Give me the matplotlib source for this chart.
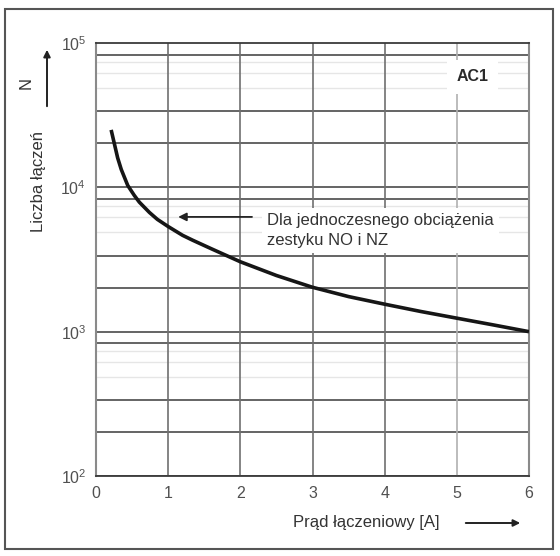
import matplotlib
matplotlib.use("Agg")
import matplotlib.pyplot as plt
from matplotlib.patches import Rectangle, FancyArrowPatch

plt.rcParams['font.family'] = ['Liberation Sans', 'DejaVu Sans']
plt.rcParams['mathtext.fontset'] = 'custom'
plt.rcParams['mathtext.rm'] = 'Liberation Sans'
plt.rcParams['mathtext.it'] = 'Liberation Sans'

# Data
current_A = [0.21, 0.25, 0.30, 0.35, 0.44, 0.53, 0.60, 0.74, 0.85, 1.0, 1.2, 1.34, 1.6,
             2.0, 2.5, 3.0, 3.5, 4.0, 4.5, 5.0, 5.5, 6.0]
switchings = [25000, 20500, 16000, 13300, 10300, 8800, 7900, 6700, 6000, 5350, 4650, 4300, 3750,
              3050, 2450, 2030, 1750, 1550, 1380, 1240, 1115, 1000]

x_ticks = [0, 1, 2, 3, 4, 5, 6]
y_ticks = [1e2, 1e3, 1e4, 1e5]
y_tick_labels = ['$10^2$', '$10^3$', '$10^4$', '$10^5$']
decades = [1e2, 1e3, 1e4]
dark_minor = [2.02, 3.37, 8.3]
light_minor = [4.88, 6.2, 7.39]
dark_vlines = [1, 2, 3, 4]
light_vlines = [5]

fig = plt.figure(figsize=(5.6, 5.56), dpi=100)
ax = fig.add_axes([96/560, 1-476/556, 433/560, 433/556])
ax.set_yscale('log')
ax.set_xlim(0, 6)
ax.set_ylim(1e2, 1e5)

for d in decades:
    for m in light_minor:
        ax.axhline(d*m, color='#e6e6e6', lw=1.0, zorder=1)
for d in decades:
    for m in dark_minor:
        ax.axhline(d*m, color='#4a4a4a', lw=1.2, zorder=2)
    ax.axhline(d, color='#4a4a4a', lw=1.2, zorder=2)
for v in dark_vlines:
    ax.axvline(v, color='#707070', lw=1.2, zorder=2)
for v in light_vlines:
    ax.axvline(v, color='#b0b0b0', lw=1.2, zorder=2)

ax.plot(current_A, switchings, color='#161616', lw=2.6, solid_capstyle='butt',
        solid_joinstyle='round', zorder=5)

for s in ['top', 'bottom']:
    ax.spines[s].set_color('#3a3a3a')
    ax.spines[s].set_linewidth(1.3)
for s in ['left', 'right']:
    ax.spines[s].set_color('#8a8a8a')
    ax.spines[s].set_linewidth(1.5)

ax.set_xticks(x_ticks)
ax.set_xticklabels([str(t) for t in x_ticks])
ax.set_yticks(y_ticks)
ax.set_yticklabels(y_tick_labels)
ax.minorticks_off()
ax.tick_params(length=0, labelsize=11.5, labelcolor='#505050', pad=7)

# AC1 label
ax.text(5.22, 10**4.765, 'AC1', fontsize=11.5, fontweight='bold', color='#2a2a2a',
        ha='center', va='center', zorder=6,
        bbox=dict(boxstyle='square,pad=0.6', fc='white', ec='none'))

# annotation text
ax.text(2.37, 10**3.70, 'Dla jednoczesnego obciążenia\nzestyku NO i NZ', fontsize=12,
        color='#333333', ha='left', va='center', linespacing=1.45, zorder=6,
        bbox=dict(boxstyle='square,pad=0.3', fc='white', ec='none'))
ax.annotate('', xy=(1.1, 10**3.795), xytext=(2.2, 10**3.795),
            arrowprops=dict(arrowstyle='-|>', color='#222222', lw=1.3,
                            mutation_scale=12), zorder=6)

# axis labels
fig.text(366/560, 1-522/556, 'Prąd łączeniowy [A]', fontsize=12, color='#333333',
         ha='center', va='center')
fig.add_artist(FancyArrowPatch((463/560, 1-523/556), (523/560, 1-523/556),
               transform=fig.transFigure, arrowstyle='-|>', mutation_scale=10,
               color='#222222', lw=1.4))
fig.text(38/560, 1-182/556, 'Liczba łączeń', fontsize=12, color='#333333',
         ha='center', va='center', rotation=90)
fig.text(26/560, 1-83/556, 'N', fontsize=12, color='#333333',
         ha='center', va='center', rotation=90)
fig.add_artist(FancyArrowPatch((47/560, 1-109/556), (47/560, 1-47/556),
               transform=fig.transFigure, arrowstyle='-|>', mutation_scale=10,
               color='#222222', lw=1.4))

# outer frame
fig.add_artist(Rectangle((5/560, 1-549/556), 548/560, 540/556, transform=fig.transFigure,
                         fill=False, ec='#555555', lw=1.5))

fig.savefig('out.png', dpi=100)
